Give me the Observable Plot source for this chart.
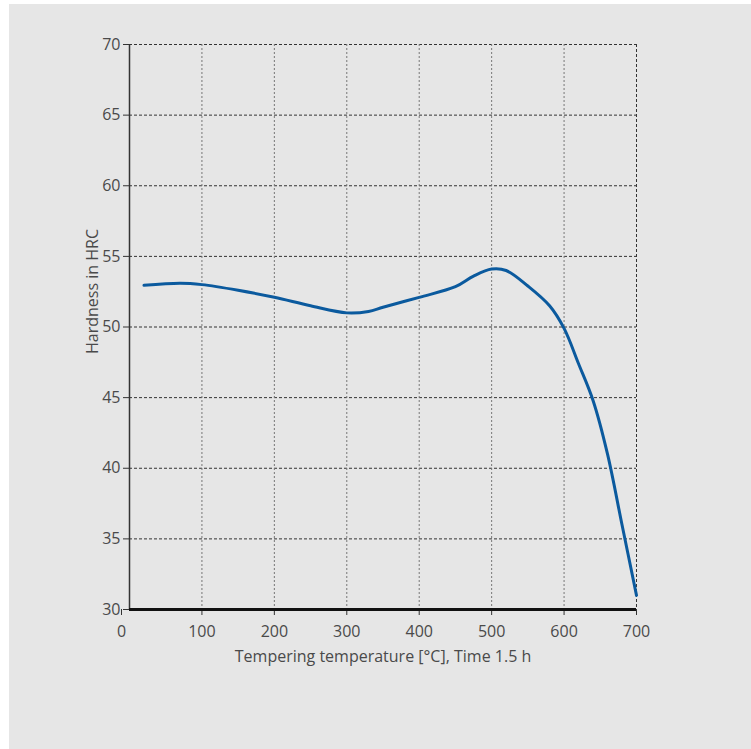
<!DOCTYPE html>
<html>
<head>
<meta charset="utf-8">
<script src="https://cdn.jsdelivr.net/npm/d3@7"></script>
<script src="https://cdn.jsdelivr.net/npm/@observablehq/plot@0.6"></script>
<style>
  html, body { margin: 0; padding: 0; background: #ffffff; width: 751px; height: 749px; overflow: hidden; }
  #panel { position: absolute; left: 9px; top: 4px; width: 742px; height: 745px; background: #e6e6e6; }
  #chart { position: absolute; left: 0; top: 0; }
</style>
</head>
<body>
<div id="panel"></div>
<div id="chart"></div>
<script>
const temps = [20, 70, 100, 150, 200, 250, 300, 330, 350, 400, 450, 475, 500, 520, 550, 580, 600, 620, 640, 660, 680, 700];
const hardness = [52.95, 53.1, 53.0, 52.6, 52.1, 51.5, 51.0, 51.1, 51.4, 52.1, 52.85, 53.6, 54.1, 54.0, 52.9, 51.5, 49.9, 47.4, 44.8, 41.0, 36.0, 31.0];
const xTicks = [0, 100, 200, 300, 400, 500, 600, 700];
const yTicks = [30, 35, 40, 45, 50, 55, 60, 65, 70];
const xTitle = "Tempering temperature [°C], Time 1.5 h";
const yTitle = "Hardness in HRC";

const data = temps.map((t, i) => ({t, h: hardness[i]}));
const textColor = "#4a4a4a";

const plot = Plot.plot({
  width: 751,
  height: 749,
  marginLeft: 129,
  marginRight: 115,
  marginTop: 44,
  marginBottom: 140,
  style: {background: "transparent", fontFamily: "'Open Sans', sans-serif", fontSize: "16px", color: textColor},
  x: {domain: [0, 700]},
  y: {domain: [30, 70]},
  marks: [
    Plot.gridY(yTicks.filter(d => d > 30), {stroke: "#333", strokeOpacity: 1, strokeDasharray: "3,2", strokeWidth: 1}),
    Plot.gridX(xTicks.filter(d => d > 0 && d < 700), {stroke: "#777", strokeOpacity: 1, strokeDasharray: "2,2", strokeWidth: 1}),
    Plot.gridX([700], {stroke: "#333", strokeOpacity: 1, strokeDasharray: "3,2", strokeWidth: 1}),
    Plot.axisY(yTicks, {tickSize: 6, tickPadding: 3, stroke: "#333", fill: textColor, fontSize: 16, label: null}),
    Plot.axisX(xTicks.filter(d => d > 0), {tickSize: 6, tickPadding: 10, stroke: "#333", fill: textColor, fontSize: 16, label: null}),
    Plot.axisX([0], {tickSize: 6, tickPadding: 10, stroke: "#333", fill: textColor, fontSize: 16, label: null, dx: -8}),
    Plot.ruleX([0], {stroke: "#333", strokeWidth: 1.5}),
    Plot.ruleY([30], {stroke: "#111", strokeWidth: 3}),
    Plot.line(data, {x: "t", y: "h", stroke: "#0b5a9e", strokeWidth: 3, curve: "catmull-rom"}),
    Plot.text([xTitle], {frameAnchor: "bottom", dy: 52, fill: textColor, fontSize: 16}),
    Plot.text([yTitle], {frameAnchor: "top-left", dx: -43, dy: 247, rotate: -90, textAnchor: "middle", fill: textColor, fontSize: 16})
  ]
});
document.getElementById("chart").appendChild(plot);
</script>
</body>
</html>
